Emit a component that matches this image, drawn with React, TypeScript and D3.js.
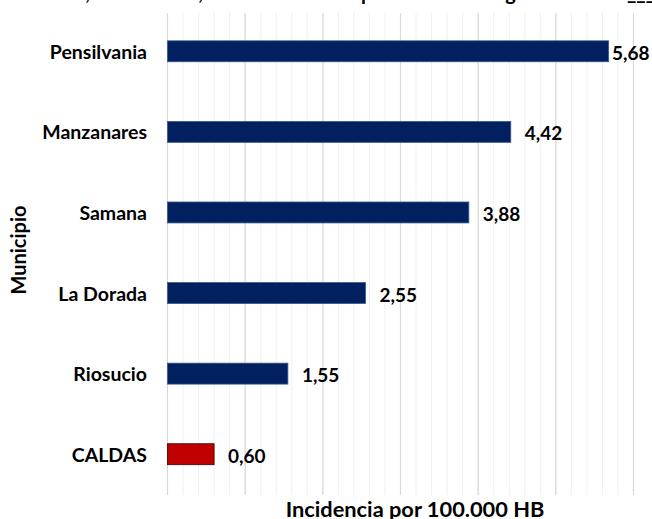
import React from "react";
import * as d3 from "d3";

const categories = ["Pensilvania", "Manzanares", "Samana", "La Dorada", "Riosucio", "CALDAS"];
const values = [5.68, 4.42, 3.88, 2.55, 1.55, 0.6];
const valueLabels = ["5,68", "4,42", "3,88", "2,55", "1,55", "0,60"];
const highlight = "CALDAS";
const xTitle = "Incidencia por 100.000 HB";
const yTitle = "Municipio";

const W = 652;
const H = 519;
const FONT = "Lato, 'Open Sans', sans-serif";

export default function App() {
  const x = d3.scaleLinear().domain([0, 6]).range([167.5, 633.5]);
  const y = d3
    .scaleBand<string>()
    .domain(categories)
    .range([11, 494.5])
    .paddingInner(0.74)
    .paddingOuter(0.37);
  const minor = x.ticks(30);
  const major = x.ticks(6);
  const gTop = 13;
  const gBot = 495;

  return (
    <svg
      width={W}
      height={H}
      style={{ position: "absolute", left: 0, top: 0, background: "#fff" }}
      fontFamily={FONT}
    >
      <rect x={0} y={0} width={W} height={H} fill="#fff" />
      {/* clipped title (only descenders visible) */}
      <text y={0} fontSize={20} fontWeight="bold" fill="#000">
        <tspan x={90} textAnchor="end">Incidencia TB,</tspan>
        <tspan x={203} textAnchor="end">Caldas,</tspan>
        <tspan x={222}>semana 52</tspan>
        <tspan x={361}>por el</tspan>
        <tspan x={489}>lugar</tspan>
        <tspan x={627}>___</tspan>
      </text>
      {minor.map((t) => (
        <line key={"mi" + t} x1={x(t)} x2={x(t)} y1={gTop} y2={gBot} stroke="#efefef" strokeWidth={1} />
      ))}
      {major.map((t) => (
        <line key={"ma" + t} x1={x(t)} x2={x(t)} y1={gTop} y2={gBot} stroke="#d9d9d9" strokeWidth={1.2} />
      ))}
      {categories.map((c, i) => {
        const v = values[i];
        const by = y(c)!;
        const bw = y.bandwidth();
        const hi = c === highlight;
        const xEnd = x(v);
        return (
          <g key={c}>
            <rect
              x={x(0)}
              y={by}
              width={xEnd - x(0)}
              height={bw}
              fill={hi ? "#C00000" : "#002060"}
              stroke={hi ? "#3a0000" : "#3c5a8c"}
              strokeWidth={0.8}
            />
            <text
              x={147}
              y={by + bw / 2}
              textAnchor="end"
              dominantBaseline="central"
              fontSize={19.5}
              fontWeight="bold"
              fill="#000"
            >
              {c}
            </text>
            <text
              x={Math.min(xEnd + 14, 612)}
              y={by + bw / 2 + 1}
              dominantBaseline="central"
              fontSize={19}
              fontWeight="bold"
              fill="#000"
            >
              {valueLabels[i]}
            </text>
          </g>
        );
      })}
      <text x={415} y={517} textAnchor="middle" fontSize={21.8} fontWeight="bold" fill="#000">
        {xTitle}
      </text>
      <text
        transform={`translate(26,250) rotate(-90)`}
        textAnchor="middle"
        fontSize={20}
        fontWeight="bold"
        fill="#000"
      >
        {yTitle}
      </text>
    </svg>
  );
}
